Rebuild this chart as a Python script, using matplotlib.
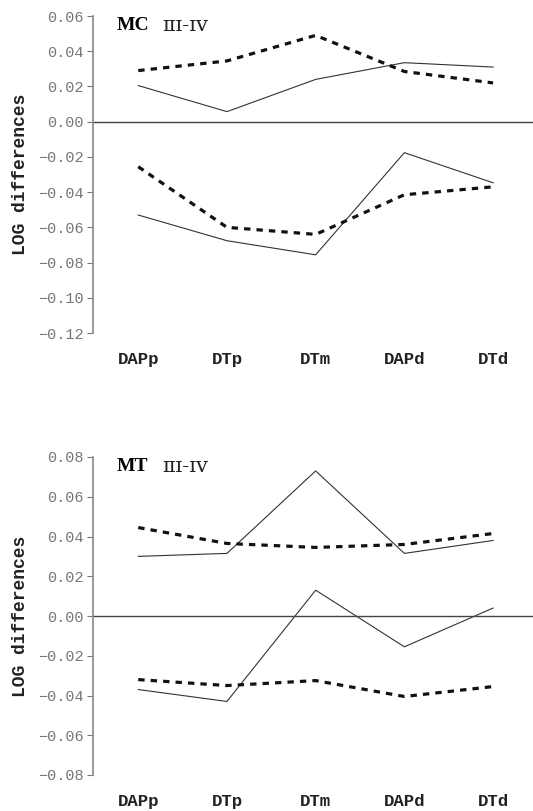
import matplotlib
matplotlib.use("Agg")
import matplotlib.pyplot as plt

categories = ["DAPp", "DTp", "DTm", "DAPd", "DTd"]

# Panel 1: MC III-IV
mc_upper_dashed = [0.029, 0.0345, 0.049, 0.0285, 0.022]
mc_upper_solid = [0.0205, 0.0057, 0.024, 0.0335, 0.031]
mc_lower_solid = [-0.053, -0.0676, -0.0756, -0.0176, -0.0347]
mc_lower_dashed = [-0.0256, -0.060, -0.064, -0.0415, -0.037]
mc_yticks = [0.06, 0.04, 0.02, 0.00, -0.02, -0.04, -0.06, -0.08, -0.10, -0.12]

# Panel 2: MT III-IV
mt_upper_dashed = [0.0445, 0.0365, 0.0345, 0.036, 0.0415]
mt_upper_solid = [0.030, 0.0315, 0.073, 0.0315, 0.038]
mt_lower_solid = [-0.037, -0.043, 0.013, -0.0155, 0.004]
mt_lower_dashed = [-0.032, -0.035, -0.0325, -0.0405, -0.0355]
mt_yticks = [0.08, 0.06, 0.04, 0.02, 0.00, -0.02, -0.04, -0.06, -0.08]

W, H = 533, 811
fig = plt.figure(figsize=(W / 100, H / 100), dpi=100)

def make_panel(rect, dashed_series, solid_series, yticks, title):
    ax = fig.add_axes(rect)
    x = list(range(len(categories)))
    for s in solid_series:
        ax.plot(x, s, color="#333333", lw=0.8, solid_joinstyle="miter")
    for s in dashed_series:
        ax.plot(x, s, color="#111111", lw=2.3, dashes=(2.0, 1.9))
    ax.axhline(0, color="#444444", lw=1.0)
    ax.set_xlim(-0.51, 4.45)
    ax.set_ylim(min(yticks), max(yticks))
    ax.set_yticks(yticks)
    ax.set_yticklabels([f"{v:.2f}".replace("-", "\u2212") for v in yticks],
                       family="Liberation Mono", fontsize=11, color="#777777")
    ax.set_xticks(x)
    ax.set_xticklabels(categories, family="Liberation Mono", fontsize=12.5,
                       fontweight="bold", color="#222222")
    ax.tick_params(axis="x", length=0, pad=14)
    ax.tick_params(axis="y", length=4, width=0.8, color="#777777", pad=3)
    for sp in ["top", "right", "bottom"]:
        ax.spines[sp].set_visible(False)
    ax.spines["left"].set_color("#888888")
    ax.spines["left"].set_linewidth(1.2)
    ax.set_ylabel("LOG differences", family="Liberation Mono", fontsize=13,
                  fontweight="bold", color="#222222", labelpad=6)
    ax.text(0.054, 0.97, title, transform=ax.transAxes, family="Liberation Serif",
            fontsize=14, fontweight="bold", va="center", ha="left")
    ax.text(0.158, 0.97, "\u026a\u026a\u026a-\u026a\u1d20", transform=ax.transAxes,
            family="DejaVu Serif", fontsize=15, va="center", ha="left", color="#222222")
    return ax

left = 93 / W
make_panel([left, 1 - 333 / H, 1 - left, (333 - 16) / H],
           [mc_upper_dashed, mc_lower_dashed], [mc_upper_solid, mc_lower_solid],
           mc_yticks, "MC")
make_panel([left, 1 - 775 / H, 1 - left, (775 - 457) / H],
           [mt_upper_dashed, mt_lower_dashed], [mt_upper_solid, mt_lower_solid],
           mt_yticks, "MT")

fig.savefig("out.png", dpi=100)
